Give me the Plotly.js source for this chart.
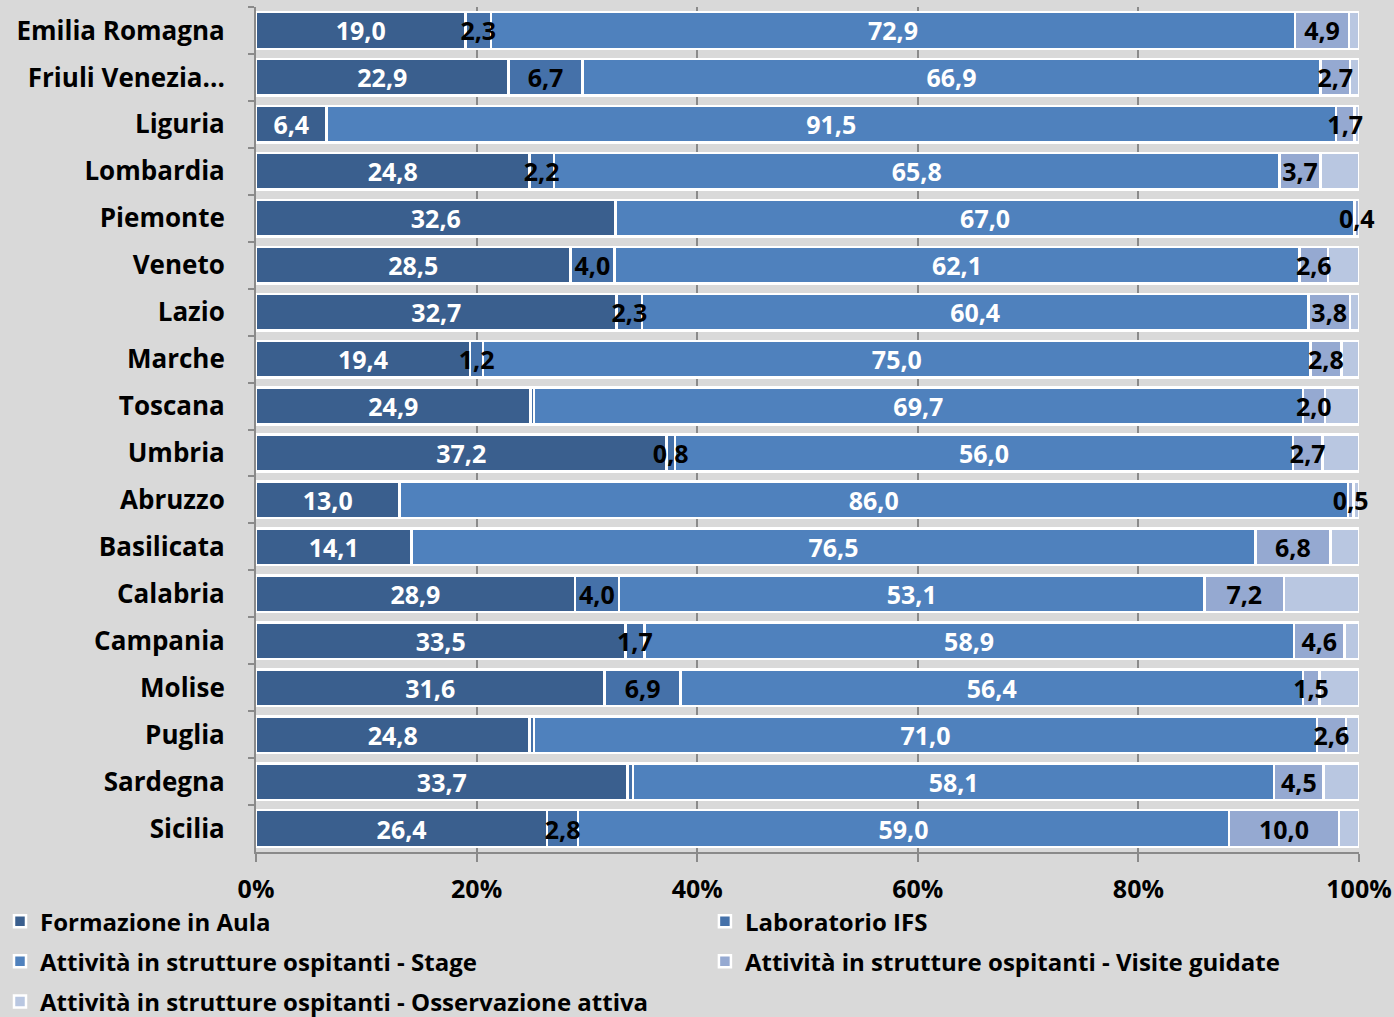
<!DOCTYPE html>
<html>
<head>
<meta charset="utf-8">
<script src="https://cdn.plot.ly/plotly-3.0.1.min.js"></script>
<style>html,body{margin:0;padding:0;background:#d9d9d9;}#chart{width:1394px;height:1017px;}</style>
</head>
<body>
<div id="chart"></div>
<script>
const regions = ["Emilia Romagna","Friuli Venezia...","Liguria","Lombardia","Piemonte","Veneto","Lazio","Marche","Toscana","Umbria","Abruzzo","Basilicata","Calabria","Campania","Molise","Puglia","Sardegna","Sicilia"];
const aula      = [19.0,22.9, 6.4,24.8,32.6,28.5,32.7,19.4,24.9,37.2,13.0,14.1,28.9,33.5,31.6,24.8,33.7,26.4];
const labIFS    = [ 2.3, 6.7, 0.0, 2.2, 0.0, 4.0, 2.3, 1.2, 0.3, 0.8, 0.0, 0.0, 4.0, 1.7, 6.9, 0.4, 0.5, 2.8];
const stage     = [72.9,66.9,91.5,65.8,67.0,62.1,60.4,75.0,69.7,56.0,86.0,76.5,53.1,58.9,56.4,71.0,58.1,59.0];
const visite    = [ 4.9, 2.7, 1.7, 3.7, 0.4, 2.6, 3.8, 2.8, 2.0, 2.7, 0.5, 6.8, 7.2, 4.6, 1.5, 2.6, 4.5,10.0];
const osserv    = [ 0.9, 0.8, 0.4, 3.5, 0.0, 2.8, 0.8, 1.6, 3.1, 3.3, 0.5, 2.6, 6.8, 1.3, 3.6, 1.2, 3.2, 1.8];
const labUnlabelled = ["Toscana","Puglia","Sardegna"];
const xTicks = [0,20,40,60,80,100];

const seriesNames = ['Formazione in Aula','Laboratorio IFS','Attività in strutture ospitanti - Stage','Attività in strutture ospitanti - Visite guidate','Attività in strutture ospitanti - Osservazione attiva'];
const seriesVals = [aula, labIFS, stage, visite, osserv];
const colors = ['#3a5f8e','#4571a9','#4f81bd','#95a9d1','#b9c7e1'];
const textColors = ['#ffffff','#000000','#ffffff','#000000','#000000'];
const legendIds = ['legend','legend2','legend','legend2','legend'];

const fmt = v => v > 0 ? v.toFixed(1).replace('.', ',') : '';
const labels = [
  aula.map(fmt),
  labIFS.map((v,i) => labUnlabelled.includes(regions[i]) ? '' : fmt(v)),
  stage.map(fmt),
  visite.map(fmt),
  osserv.map(() => '')
];
const FONT = '"Open Sans", "Noto Sans", sans-serif';

const data = [];
// coloured bars
seriesNames.forEach((name, k) => {
  data.push({
    type: 'bar', orientation: 'h', name: name,
    y: regions, x: seriesVals[k],
    marker: {color: colors[k], line: {color: '#ffffff', width: 2.5}},
    legend: legendIds[k], legendgroup: 'g' + k,
    hoverinfo: 'x+name'
  });
});
// transparent overlay copy that carries the value labels on top of every bar
seriesNames.forEach((name, k) => {
  data.push({
    type: 'bar', orientation: 'h', name: name, yaxis: 'y2',
    y: regions, x: seriesVals[k], showlegend: false,
    marker: {color: 'rgba(0,0,0,0)', line: {width: 0}},
    text: labels[k],
    textposition: 'inside', insidetextanchor: 'middle', constraintext: 'none', textangle: 0,
    textfont: {family: FONT, size: 25, color: textColors[k], weight: 'bold'},
    cliponaxis: false, hoverinfo: 'skip'
  });
});

const legendCommon = {
  orientation: 'v', xref: 'paper', yref: 'container', xanchor: 'left', yanchor: 'top',
  traceorder: 'grouped', tracegroupgap: 6, itemwidth: 30,
  font: {family: FONT, size: 24, color: '#000', weight: 'bold'},
  bgcolor: 'rgba(0,0,0,0)'
};

const layout = {
  width: 1394, height: 1017,
  paper_bgcolor: '#d9d9d9', plot_bgcolor: '#d9d9d9',
  margin: {l: 256, r: 35, t: 7, b: 165},
  barmode: 'stack', bargap: 0.22,
  font: {family: FONT, size: 25, color: '#000000', weight: 'bold'},
  xaxis: {
    range: [0, 100], tickvals: xTicks, ticktext: xTicks.map(v => v + '%'),
    showgrid: true, gridcolor: '#8a8a8a', gridwidth: 2,
    showline: true, linecolor: '#8a8a8a', linewidth: 2,
    ticks: 'outside', ticklen: 8, tickwidth: 2, tickcolor: '#8a8a8a',
    tickfont: {family: FONT, size: 25, color: '#000', weight: 'bold'},
    ticklabelstandoff: 6, zeroline: false, fixedrange: true, automargin: false
  },
  yaxis: {
    autorange: 'reversed', type: 'category',
    showline: true, linecolor: '#8a8a8a', linewidth: 2,
    ticks: 'outside', tickson: 'boundaries', ticklen: 6, tickwidth: 2, tickcolor: '#8a8a8a',
    tickfont: {family: FONT, size: 26, color: '#000', weight: 'bold'},
    ticklabelstandoff: 24, showgrid: false, fixedrange: true, automargin: false
  },
  yaxis2: {
    overlaying: 'y', matches: 'y', type: 'category', autorange: 'reversed',
    visible: false, showgrid: false, fixedrange: true
  },
  showlegend: true,
  legend: Object.assign({}, legendCommon, {x: -0.236, y: 0.116}),
  legend2: Object.assign({}, legendCommon, {x: 0.407, y: 0.116})
};

Plotly.newPlot('chart', data, layout, {displayModeBar: false, staticPlot: true});
</script>
</body>
</html>
